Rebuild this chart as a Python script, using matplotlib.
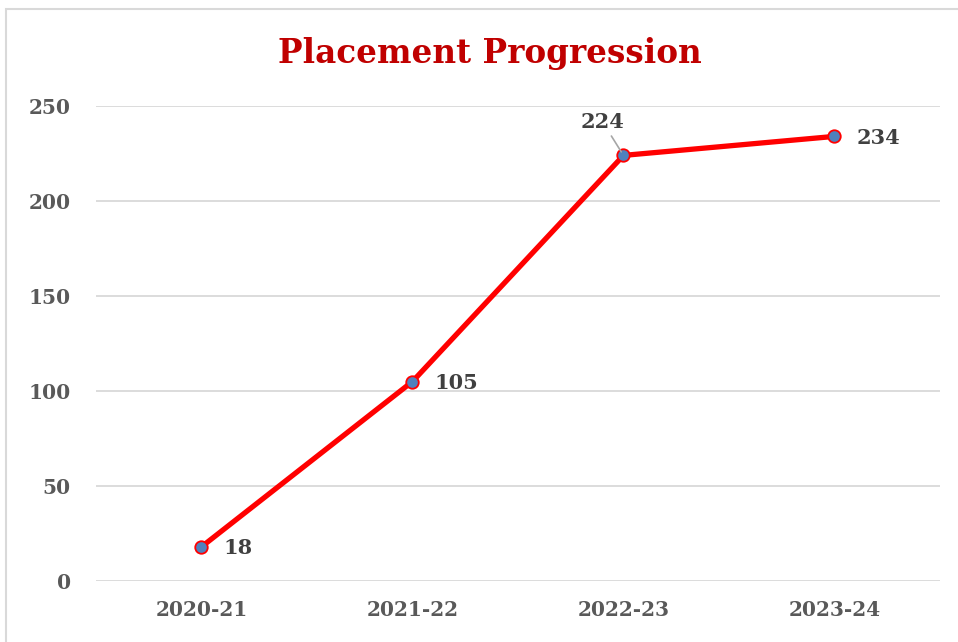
import matplotlib.pyplot as plt
from matplotlib.patches import Rectangle

# placement numbers per academic year
years = ["2020-21", "2021-22", "2022-23", "2023-24"]
placements = [18, 105, 224, 234]
y_ticks = [0, 50, 100, 150, 200, 250]

plt.rcParams['font.family'] = ['DejaVu Serif']

fig = plt.figure(figsize=(9.58, 6.42), dpi=100)
ax = fig.add_axes([0.1002, 0.0950, 0.8810, 0.7399])

# chart border
fig.patches.append(Rectangle((6 / 958, -0.05), 1.1, 1 - 9 / 642 + 0.05,
                             transform=fig.transFigure, fill=False,
                             edgecolor='#d9d9d9', linewidth=1.5))

x = list(range(len(years)))
ax.plot(x, placements, color='#ff0000', linewidth=3.8, zorder=3,
        marker='o', markersize=9, markerfacecolor='#4f81bd',
        markeredgecolor='#ff0000', markeredgewidth=1.3)

# data labels
for i, v in enumerate(placements):
    if i == 2:
        ax.annotate(str(v), xy=(i, v), xytext=(-15, 24), textcoords='offset points',
                    ha='center', va='center', fontsize=15, fontweight='bold',
                    color='#404040',
                    arrowprops=dict(arrowstyle='-', color='#a6a6a6', lw=1.2,
                                    shrinkA=1, shrinkB=3))
    else:
        ax.annotate(str(v), xy=(i, v), xytext=(16, -1), textcoords='offset points',
                    ha='left', va='center', fontsize=15, fontweight='bold',
                    color='#404040')

ax.set_xlim(-0.5, 3.5)
ax.set_ylim(0, 250)
ax.set_xticks(x)
ax.set_xticklabels(years)
ax.set_yticks(y_ticks)
ax.tick_params(length=0, labelsize=14.5, labelcolor='#595959')
ax.tick_params(axis='x', pad=14)
ax.tick_params(axis='y', pad=18)
for lbl in ax.get_xticklabels() + ax.get_yticklabels():
    lbl.set_fontweight('bold')

ax.grid(axis='y', color='#d9d9d9', linewidth=1.3)
ax.set_axisbelow(True)
for s in ax.spines.values():
    s.set_visible(False)

fig.text(490 / 958, 1 - 53 / 642, "Placement Progression", ha='center', va='center',
         fontsize=23.5, fontweight='bold', color='#c00000')

fig.savefig('out.png', dpi=100)
